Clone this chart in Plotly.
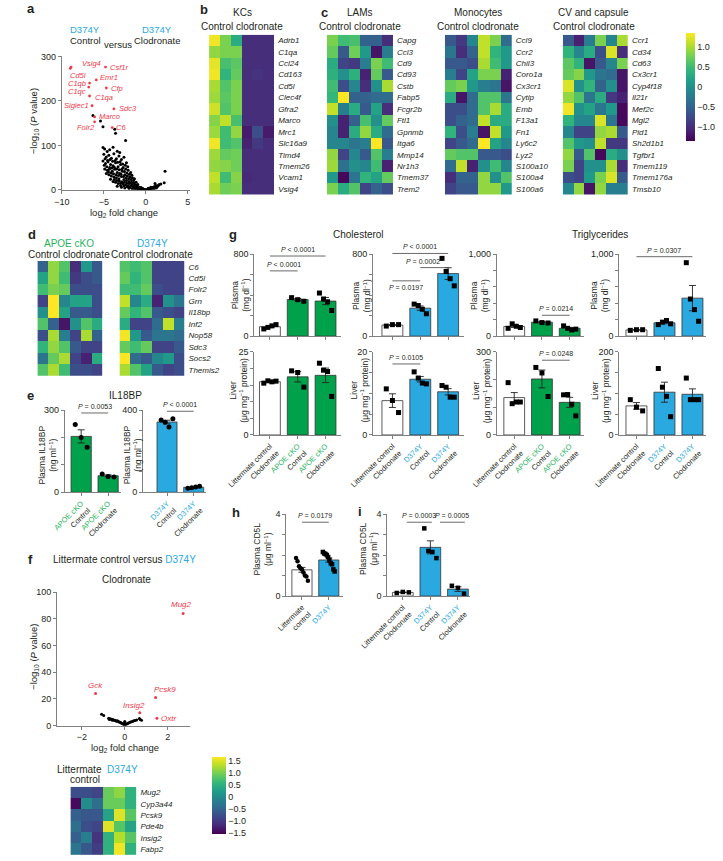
import numpy as np
import plotly.graph_objects as go

W, H = 723, 861
FONT = "Liberation Sans"
INK = "#231f20"
AXC = "#808080"
GREEN = "#00a14b"
GREEN_TXT = "#1fb35c"
BLUE = "#29a9e0"
RED = "#ee3b4a"

# ---------------- a: volcano, D374Y control versus clodronate ----------------
a_x = [-6.3, -5.4, -5.1, -3.7, -3.6, -2.4, -5.1, -4.9, -4.6, -4.3, -3.9, -3.4, -3.1,
       -5.0, -4.7, -4.4, -4.1, -3.8, -3.5, -3.2, -2.9, -2.6, -2.3, -5.1, -4.8, -4.5,
       -4.2, -3.9, -3.6, -3.3, -3.0, -2.7, -2.4, -2.1, -1.8, -4.9, -4.6, -4.3, -4.0,
       -3.7, -3.4, -3.1, -2.8, -2.5, -2.2, -1.9, -1.6, -4.7, -4.4, -4.1, -3.8, -3.5,
       -3.2, -2.9, -2.6, -2.3, -2.0, -1.7, -1.4, -1.2, -4.2, -3.9, -3.6, -3.3, -3.0,
       -2.7, -2.4, -2.1, -1.8, -1.5, -1.2, -1.0, -0.8, -0.6, -0.4, -0.2, -3.4, -2.9,
       -2.5, -2.0, -1.6, -1.3, -0.9, -0.5, -0.3, 0.0, 0.2, 0.4, 0.6, 0.8, 1.0, 1.2,
       1.4, 1.6, 0.9, 1.1, 1.3, 2.3, 2.2, 1.8, 0.5, 1.5,
       -4.85, -4.55, -4.25, -3.95, -3.65, -3.35, -3.05, -2.75, -2.45, -2.15,
       -4.95, -4.65, -4.35, -4.05, -3.75, -3.45, -3.15, -2.85, -2.55, -2.25, -1.95, -1.65, -1.35,
       -4.45, -4.15, -3.85, -3.55, -3.25, -2.95, -2.65, -2.35, -2.05, -1.75, -1.45, -1.15, -0.95,
       -3.75, -3.45, -3.15, -2.85, -2.55, -2.25, -1.95, -1.65, -1.35, -1.05, -0.75, -0.55, -0.35,
       -3.0, -2.6, -2.2, -1.9, -1.4, -1.1, -0.7, -0.15, 0.1, 0.3, 0.7, 1.0, 0.3, 0.6, 1.25]
a_y = [167, 155, 142, 136, 127, 111, 95, 92, 86, 90, 96, 87, 84,
       80, 74, 78, 71, 81, 70, 76, 68, 73, 61, 65, 59, 63,
       57, 54, 61, 52, 57, 50, 47, 44, 39, 47, 44, 50, 42,
       46, 39, 37, 42, 34, 31, 29, 27, 37, 34, 31, 29, 27,
       25, 30, 23, 21, 19, 17, 15, 11, 24, 19, 17, 14, 15,
       13, 11, 9, 8, 7, 5, 4, 3, 2.5, 1.5, 1, 8, 6,
       4, 3, 2.5, 2, 1.5, 0.8, 0.4, 0.2, 0.5, 1.5, 3, 5, 7, 10,
       8, 12, 4, 14, 6, 42, 16, 13, 2.5, 10,
       70, 66, 68, 64, 66, 62, 63, 58, 55, 52,
       55, 52, 46, 49, 51, 47, 45, 46, 41, 38, 35, 33, 25,
       40, 38, 36, 34, 32, 35, 30, 27, 25, 23, 21, 17, 12,
       23, 21, 20, 18, 17, 15, 14, 12, 10, 8, 6, 5, 3,
       10, 9, 7, 5, 4, 3, 1.5, 0.5, 0.3, 1.0, 2.0, 3.0, 3.5, 6, 4]
a_genes = ["Vsig4", "Cd5l", "Csf1r", "Emr1", "C1qb", "C1qc", "Cfp", "C1qa",
           "Siglec1", "Sdc3", "Marco", "Folr2", "C6"]
a_gene_x = [-8.9, -9.0, -4.8, -5.9, -6.7, -6.8, -4.7, -6.7, -6.4, -3.8, -6.1, -6.1, -4.0]
a_gene_y = [276, 273, 276, 247, 240, 231, 229, 211, 189, 182, 164, 153, 140]
# label placement: (xanchor, xshift, yshift)
a_label_pos = [("left", 9, 4), ("left", -2, -7), ("left", 2, 0), ("left", 2, 2),
               ("right", -2, 0), ("right", -1, -4), ("left", 3, -1), ("left", 3, -2),
               ("right", -1, 0), ("left", 3, 0), ("left", 2, 0), ("right", 2, -6),
               ("left", 2, 0)]

# ---------------- b, c: heatmaps ----------------
kc_genes = ["Adrb1", "C1qa", "Ccl24", "Cd163", "Cd5l", "Clec4f", "Gfra2", "Marco",
            "Mrc1", "Slc16a9", "Timd4", "Tmem26", "Vcam1", "Vsig4"]
kc_z = [[1.3, 0.8, 0.3, -1.0, -1.0, -1.0],
        [0.9, 0.8, 0.8, -1.0, -1.0, -1.0],
        [1.25, 0.55, 0.65, -1.0, -1.0, -1.0],
        [1.3, 0.4, 0.7, -1.0, -0.95, -1.0],
        [1.0, 0.6, 0.8, -1.0, -1.0, -1.0],
        [0.95, 0.65, 0.8, -1.0, -1.0, -1.0],
        [1.15, 0.6, 0.8, -1.0, -1.0, -1.0],
        [0.85, 1.1, 0.55, -1.0, -1.0, -1.0],
        [0.95, 0.5, 0.9, -1.15, -0.7, -1.15],
        [1.3, 0.5, 0.6, -1.1, -0.9, -1.0],
        [0.95, 0.7, 0.75, -1.0, -1.0, -1.0],
        [0.9, 0.85, 0.75, -1.0, -1.0, -1.0],
        [1.1, 0.5, 0.85, -1.05, -1.0, -1.0],
        [1.0, 0.75, 0.8, -1.0, -1.0, -1.0]]

lam_genes = ["Capg", "Ccl3", "Cd9", "Cd93", "Cstb", "Fabp5", "Fcgr2b", "Ftl1",
             "Gpnmb", "Itga6", "Mmp14", "Nr1h3", "Tmem37", "Trem2"]
lam_z = [[0.8, 0.5, 0.55, -0.5, -0.5, -1.0],
         [0.7, -0.6, 0.75, 0.1, -1.2, -0.2],
         [0.3, -0.8, -0.9, -0.2, 0.8, 0.5],
         [0.35, 0.0, 0.35, -1.1, 0.7, -0.6],
         [0.5, -0.7, -0.1, -1.0, 0.0, 1.0],
         [0.45, 1.35, -0.5, -0.5, -0.4, -0.4],
         [1.1, -0.2, 0.3, -0.6, 0.2, -1.0],
         [0.0, -1.1, -0.5, 0.55, 0.0, 0.7],
         [-0.1, -1.1, 0.3, 0.9, 0.3, -0.4],
         [-0.1, -0.1, -0.3, -0.2, 1.35, -0.6],
         [0.9, -0.8, -0.1, -0.6, 0.6, -0.2],
         [0.95, -0.35, 0.0, -0.1, 0.5, -1.1],
         [0.1, -1.3, -0.3, 0.4, 0.2, 0.7],
         [0.8, 0.3, 0.6, -0.8, -0.5, -0.7]]

mono_genes = ["Ccl9", "Ccr2", "Chil3", "Coro1a", "Cx3cr1", "Cytip", "Emb", "F13a1",
              "Fn1", "Ly6c2", "Lyz2", "S100a10", "S100a4", "S100a6"]
mono_z = [[-0.6, -0.9, -0.1, 1.1, 0.8, -0.4],
          [-0.3, -1.0, -0.5, 1.1, 0.4, 0.1],
          [-0.6, -0.6, -0.7, 1.0, 0.5, 0.1],
          [-0.2, -0.8, 0.2, 0.8, 0.8, -1.1],
          [0.7, 0.8, 0.1, -0.2, -0.3, -1.2],
          [0.3, -1.2, -0.4, 0.6, 0.6, -0.3],
          [-0.7, -0.7, -0.4, 0.6, 1.0, 0.3],
          [-0.7, -0.5, -0.4, 1.1, 0.3, 0.3],
          [0.4, -0.7, -0.2, -1.2, 1.1, 0.1],
          [-0.8, -0.6, -0.4, 1.35, 0.2, -0.1],
          [0.7, 0.6, 0.6, -0.6, -0.6, -0.7],
          [-0.4, 1.1, -1.1, 0.0, 0.5, -0.1],
          [-1.0, -0.5, -0.5, 0.9, 0.0, 0.6],
          [-0.8, -0.6, -0.6, 0.9, 0.9, 0.1]]

cv_genes = ["Ccr1", "Cd34", "Cd63", "Cx3cr1", "Cyp4f18", "Il21r", "Mef2c", "Mgl2",
            "Pid1", "Sh2d1b1", "Tgfbr1", "Tmem119", "Tmem176a", "Tmsb10"]
cv_z = [[-0.6, -1.1, -0.2, 0.8, -0.1, 1.0],
        [0.4, -0.1, 0.3, -0.7, 1.2, -1.0],
        [0.65, 0.4, -1.2, -0.6, -0.1, 0.8],
        [0.7, 0.85, 0.1, -0.3, -0.4, -1.2],
        [1.2, 0.0, 0.4, -0.5, 0.0, -1.2],
        [0.9, 0.6, -0.3, 0.3, -0.9, -1.1],
        [1.3, 0.0, 0.2, -0.3, 0.1, -1.3],
        [0.4, -0.1, -0.1, 1.2, -0.3, -1.3],
        [-0.1, -0.8, -0.8, 0.9, 1.0, -0.6],
        [0.6, 0.1, 0.0, 1.1, -0.9, -0.9],
        [0.9, -0.6, 0.6, -1.3, 0.3, 0.0],
        [0.8, -0.8, 0.0, 0.0, 1.0, -1.0],
        [-0.7, -0.8, 0.1, 0.8, 1.2, -0.6],
        [-0.1, 0.9, -1.2, 0.9, -0.2, -0.2]]

# ---------------- d: heatmaps ----------------
d_genes = ["C6", "Cd5l", "Folr2", "Grn", "Il18bp", "Inf2", "Nop58", "Sdc3", "Socs2", "Themis2"]
d_apoe_z = [[-0.5, 0.9, 0.6, -1.0, 0.1, -0.6],
            [0.2, 0.9, 0.5, -0.9, -0.7, -0.6],
            [0.5, 0.8, 0.7, -0.7, -0.7, -0.7],
            [-0.8, 1.35, -0.1, 0.2, 0.2, -0.7],
            [0.0, 1.35, 0.2, -0.6, -0.6, -0.7],
            [0.6, -0.5, -1.2, 0.0, 0.6, 0.3],
            [-0.7, 1.0, -0.2, -0.8, 1.0, -0.5],
            [0.4, 0.9, 0.6, -0.6, -0.8, -0.8],
            [-0.3, 0.7, 1.0, -0.8, -1.1, 0.3],
            [0.6, 1.0, 0.5, -0.7, -0.7, -0.8]]
d_d374_z = [[0.6, 0.5, 0.6, -0.8, -0.8, -0.8],
            [0.7, 0.4, 0.6, -0.8, -0.8, -0.8],
            [0.5, 0.5, 0.7, -0.7, -0.8, -0.8],
            [1.1, -0.1, 0.3, -1.1, 0.0, -0.3],
            [0.7, 0.4, 0.6, -0.6, -0.7, -0.8],
            [0.3, -0.8, -0.8, -0.4, 1.1, -0.2],
            [1.3, 0.1, -0.6, -0.3, -0.3, -0.4],
            [0.7, 0.5, 0.7, -0.8, -0.8, -0.6],
            [1.35, -0.4, -0.6, -0.1, 0.1, -0.7],
            [1.0, 0.6, 0.2, -0.6, -0.8, -0.7]]

# ---------------- e: IL18BP ----------------
e_apoe = [[248, 200, 165], [67, 58, 56]]
e_d374 = [[352, 342, 318, 358], [20, 22, 26, 29]]

# ---------------- g: cholesterol / triglycerides ----------------
chol_apoe_plasma = [[70, 85, 100, 112], [375, 355, 340], [420, 362, 335, 250]]
chol_d374_plasma = [[98, 112, 112], [312, 298, 262, 218], [758, 630, 560, 490]]
tg_apoe_plasma = [[95, 150, 120, 105], [185, 165, 160], [125, 95, 75, 85]]
tg_d374_plasma = [[70, 78, 78], [140, 170, 190, 150], [895, 452, 323, 181]]
chol_apoe_liver = [[15.6, 16.3, 16.0, 16.2], [19.3, 18.8, 14.4], [21.6, 19.5, 19.1, 11.6]]
chol_d374_liver = [[11.1, 8.3, 5.4], [15.2, 13.7, 12.5, 12.3], [11.9, 11.5, 9.1, 9.1]]
tg_apoe_liver = [[189, 113, 119, 119], [244, 224, 139], [145, 146, 111, 69]]
tg_d374_liver = [[85, 67, 58], [160, 115, 93, 44], [137, 85, 85, 85]]

# ---------------- h, i: plasma CD5L ----------------
h_cd5l = [[1.85, 1.7, 1.45, 1.35, 1.3, 1.15, 1.0, 0.95, 0.75],
          [2.15, 2.08, 2.05, 2.0, 1.9, 1.75, 1.6, 1.55, 1.3, 1.2]]
i_cd5l = [[0.15, 0.2, 0.18], [3.3, 2.2, 2.15, 1.85], [0.5, 0.4, 0.12]]

# ---------------- f: volcano + heatmap ----------------
f_x = [-1.08, -0.98, -0.75, -0.72, -0.68, -0.62, -0.58, -0.55, -0.5, -0.45, -0.42,
       -0.38, -0.34, -0.3, -0.26, -0.22, -0.18, -0.14, -0.1, -0.06, -0.03, 0.0, 0.03,
       0.07, 0.11, 0.15, 0.2, 0.25, 0.3, 0.36, 0.42, 0.48, 0.55, 0.68, 0.72, 0.78,
       0.0, 0.0, 0.0]
f_y = [8.5, 7.5, 5.5, 4.5, 5.0, 4.8, 4.0, 4.5, 4.0, 3.8, 3.5,
       3.2, 3.5, 3.0, 2.6, 2.4, 2.0, 1.7, 1.3, 0.9, 0.5, 0.2, 0.6,
       1.0, 1.4, 1.7, 2.0, 2.4, 2.8, 3.1, 3.5, 3.8, 4.2, 5.2, 4.6, 4.0,
       1.2, 2.2, 3.0]
f_genes = ["Mug2", "Gck", "Pcsk9", "Insig2", "Oxtr"]
f_gene_x = [2.72, -1.36, 1.44, 0.7, 1.5]
f_gene_y = [84, 24, 21, 9.5, 5.5]
f_label_pos = [("center", "bottom", -2, 2), ("center", "bottom", 0, 2),
               ("left", "bottom", -4, 2), ("center", "bottom", -6, 1),
               ("left", "middle", 2, 0)]

fh_genes = ["Mug2", "Cyp3a44", "Pcsk9", "Pde4b", "Insig2", "Fabp2"]
fh_z = [[-0.8, -0.8, -0.9, 0.9, 1.1, 0.5],
        [-1.5, 0.0, -0.4, 0.9, 0.9, 0.5],
        [-0.6, -0.7, -0.7, 0.3, 1.5, 0.8],
        [-0.4, -0.8, -0.9, 1.5, 0.8, 0.3],
        [-0.6, -0.2, -1.1, 0.5, 1.3, 0.8],
        [-0.3, -0.7, -1.0, 0.5, 1.6, 0.5]]


fig = go.Figure()
axes = {}
notes = []
shapes = []


def add_axes(xpx, ypx, xopt, yopt):
    k = len(axes) // 2 + 1
    s = "" if k == 1 else str(k)
    base = dict(showgrid=False, zeroline=False, linecolor=AXC, linewidth=1,
                tickcolor=AXC, ticklen=3, tickwidth=1, fixedrange=True,
                tickfont=dict(size=9, color=INK, family=FONT))
    axes["xaxis" + s] = {**base, "domain": [xpx[0] / W, xpx[1] / W], "anchor": "y" + s, **xopt}
    axes["yaxis" + s] = {**base, "domain": [1 - ypx[1] / H, 1 - ypx[0] / H], "anchor": "x" + s, **yopt}
    return "x" + s, "y" + s


def text(x, y, s, size=10, color=INK, **kw):
    opts = dict(xanchor="center", yanchor="middle")
    opts.update(kw)
    notes.append(dict(x=x / W, y=1 - y / H, xref="paper", yref="paper", text=s,
                      showarrow=False, font=dict(size=size, color=color, family=FONT), **opts))


def heatmap(z, genes, xpx, ypx, cax="coloraxis", show_genes=True):
    xa, ya = add_axes(
        xpx, ypx,
        dict(range=[-0.5, len(z[0]) - 0.5], showline=False, ticks="", showticklabels=False),
        dict(range=[len(genes) - 0.5, -0.5], side="right", showline=False, ticks="",
             tickvals=list(range(len(genes))), ticktext=[f"<i>{g}</i>" for g in genes],
             showticklabels=show_genes, ticklabelstandoff=3,
             tickfont=dict(size=8, color=INK, family=FONT)))
    fig.add_trace(go.Heatmap(z=z, coloraxis=cax, xaxis=xa, yaxis=ya, hoverinfo="skip"))


def bar_panel(xpx, ypx, xr, ytop, ystep, ylabel_top, groups, colors, symbols,
              xticks=None, sigs=(), msize=5):
    n = len(groups)
    xa, ya = add_axes(
        xpx, ypx,
        dict(range=xr, tickvals=list(range(n)), ticks="outside",
             ticktext=xticks, showticklabels=xticks is not None, tickangle=-45,
             tickfont=dict(size=7.5, color=INK, family=FONT)),
        dict(range=[0, ytop], tickvals=[0, ytop], ticktext=["0", ylabel_top], ticks="outside",
             minor=dict(dtick=ystep, ticks="outside", ticklen=3, tickcolor=AXC, tickwidth=1)))
    means = [np.mean(g) for g in groups]
    sems = [np.std(g, ddof=1) / np.sqrt(len(g)) for g in groups]
    fig.add_trace(go.Bar(x=list(range(n)), y=means, width=0.75, xaxis=xa, yaxis=ya,
                         marker=dict(color=colors, line=dict(color="#333333", width=0.8)),
                         error_y=dict(type="data", array=sems, color="#222222",
                                      thickness=0.9, width=3.5)))
    for i, g in enumerate(groups):
        off = np.linspace(-0.22, 0.22, len(g))
        fig.add_trace(go.Scatter(x=i + off, y=g, mode="markers", xaxis=xa, yaxis=ya,
                                 cliponaxis=False,
                                 marker=dict(symbol=symbols[i], size=msize, color="black")))

    def px_x(v):
        return xpx[0] + (v - xr[0]) / (xr[1] - xr[0]) * (xpx[1] - xpx[0])

    def px_y(v):
        return ypx[1] - v / ytop * (ypx[1] - ypx[0])

    for sig in sigs:
        i, j, lev, ptxt, below = sig[:5]
        dx = sig[5] if len(sig) > 5 else 0
        x0, x1, y = px_x(i), px_x(j), px_y(lev)
        shapes.append(dict(type="line", xref="paper", yref="paper", x0=x0 / W, x1=x1 / W,
                           y0=1 - y / H, y1=1 - y / H, line=dict(color="#444444", width=0.8)))
        text((x0 + x1) / 2 + dx, y + (1 if below else -1), ptxt, size=7,
             yanchor="top" if below else "bottom")


def ytitle(x, y, s, size=8.5):
    text(x, y, s, size=size, textangle=-90)


def ptext(v):
    return "<i>P</i> " + v


def colored(s, c):
    return f"<span style='color:{c}'>{s}</span>"


# ---------- a ----------
xa, ya = add_axes([37, 173], [52, 187],
                  dict(range=[-10, 5.3], tickvals=[-10, -5, 0, 5], ticks="outside"),
                  dict(range=[0, 300], tickvals=[0, 100, 200, 300], ticks="outside"))
fig.add_trace(go.Scatter(x=a_x, y=a_y, mode="markers", xaxis=xa, yaxis=ya,
                         marker=dict(size=3, color="black")))
fig.add_trace(go.Scatter(x=a_gene_x, y=a_gene_y, mode="markers", xaxis=xa, yaxis=ya,
                         marker=dict(size=2.8, color=RED)))
for g, gx, gy, (anc, dx, dy) in zip(a_genes, a_gene_x, a_gene_y, a_label_pos):
    notes.append(dict(x=gx, y=gy, xref=xa, yref=ya, text=f"<i>{g}</i>", showarrow=False,
                      xanchor=anc, yanchor="middle", xshift=dx, yshift=dy,
                      font=dict(size=7.5, color=RED, family=FONT)))
text(61, 25, "D374Y", 9.5, BLUE)
text(62, 36, "Control", 9.5)
text(97, 40, "versus", 9.5)
text(138, 25, "D374Y", 9.5, BLUE)
text(138, 36, "Clodronate", 9.5)
text(103, 210, "log<sub>2</sub> fold change", 9.5)
ytitle(7, 118, "−log<sub>10</sub> (<i>P</i> value)", 9.5)

# ---------- b, c ----------
heatmap(kc_z, kc_genes, [193, 262], [30, 192])
heatmap(lam_z, lam_genes, [318, 388], [30, 192])
heatmap(mono_z, mono_genes, [443, 514], [30, 192])
heatmap(cv_z, cv_genes, [568, 637], [30, 192])
for cx, ttl in [(228, "KCs"), (353, "LAMs"), (478, "Monocytes"), (601, "CV and capsule")]:
    text(cx, 8, ttl, 10)
    text(cx, 22, "Control clodronate", 10)

# ---------- d ----------
heatmap(d_apoe_z, d_genes, [11, 80], [259, 375], show_genes=False)
heatmap(d_d374_z, d_genes, [98, 167], [259, 375])
text(45, 241, "APOE cKO", 10, GREEN_TXT)
text(45, 252, "Control clodronate", 10)
text(133, 241, "D374Y", 10, BLUE)
text(132, 252, "Control clodronate", 10)

# ---------- e ----------
text(104, 395, "IL18BP", 10)
bar_panel([40, 100], [410, 493], [-0.61, 1.49], 300, 100, "300",
          e_apoe, [GREEN, GREEN], ["circle", "circle"],
          xticks=[colored("APOE cKO", GREEN_TXT) + "<br>Control",
                  colored("APOE cKO", GREEN_TXT) + "<br>Clodronate"],
          sigs=[(0, 1, 290, ptext("= 0.0053"), False)])
bar_panel([123, 190], [410, 493], [-0.9, 1.47], 400, 100, "400",
          e_d374, [BLUE, BLUE], ["circle", "circle"],
          xticks=[colored("D374Y", BLUE) + "<br>Control",
                  colored("D374Y", BLUE) + "<br>Clodronate"],
          sigs=[(0, 1, 395, ptext("< 0.0001"), False)])
ytitle(22, 455, "Plasma IL18BP<br>(ng ml<sup>−1</sup>)")
ytitle(112, 455, "Plasma IL18BP<br>(ng ml<sup>−1</sup>)")

# ---------- g ----------
text(351, 232, "Cholesterol", 10)
text(607, 232, "Triglycerides", 10)
apoe_ticks = ["Littermate control<br>Clodronate",
              colored("APOE cKO", GREEN_TXT) + "<br>Control",
              colored("APOE cKO", GREEN_TXT) + "<br>Clodronate"]
d374_ticks = ["Littermate control<br>Clodronate",
              colored("D374Y", BLUE) + "<br>Control",
              colored("D374Y", BLUE) + "<br>Clodronate"]
g_cols = [([241, 333], [-0.56, 2.56]), ([367, 463], [-0.69, 2.56]),
          ([498, 590], [-0.63, 2.5]), ([628, 720], [-0.61, 2.49])]
top_y, bot_y = [252, 335], [351, 435]
apoe_c = ["white", GREEN, GREEN]
d374_c = ["white", BLUE, BLUE]
sq = ["square"] * 3

bar_panel(g_cols[0][0], top_y, g_cols[0][1], 800, 200, "800", chol_apoe_plasma, apoe_c, sq,
          sigs=[(0, 2, 781, ptext("< 0.0001"), False), (0, 1, 636, ptext("< 0.0001"), False)])
bar_panel(g_cols[1][0], top_y, g_cols[1][1], 800, 200, "800", chol_d374_plasma, d374_c, sq,
          sigs=[(0, 2, 806, ptext("< 0.0001"), False),
                (1, 2, 668, ptext("= 0.0002"), False, -12),
                (0, 1, 539, ptext("= 0.0197"), True)])
bar_panel(g_cols[2][0], top_y, g_cols[2][1], 1000, 200, "1,000", tg_apoe_plasma, apoe_c, sq,
          sigs=[(1, 2, 254, ptext("= 0.0214"), False)])
bar_panel(g_cols[3][0], top_y, g_cols[3][1], 1000, 200, "1,000", tg_d374_plasma, d374_c, sq,
          sigs=[(0, 2, 968, ptext("= 0.0307"), False)])
bar_panel(g_cols[0][0], bot_y, g_cols[0][1], 25, 5, "25", chol_apoe_liver, apoe_c, sq,
          xticks=apoe_ticks)
bar_panel(g_cols[1][0], bot_y, g_cols[1][1], 20, 5, "20", chol_d374_liver, d374_c, sq,
          xticks=d374_ticks, sigs=[(0, 1, 17.1, ptext("= 0.0105"), False)])
bar_panel(g_cols[2][0], bot_y, g_cols[2][1], 300, 100, "300", tg_apoe_liver, apoe_c, sq,
          xticks=apoe_ticks, sigs=[(1, 2, 270, ptext("= 0.0248"), False)])
bar_panel(g_cols[3][0], bot_y, g_cols[3][1], 200, 50, "200", tg_d374_liver, d374_c, sq,
          xticks=d374_ticks)
for cx in [226, 355, 480, 607]:
    ytitle(cx, 294, "Plasma<br>(mg dl<sup>−1</sup>)")
for cx in [224, 352, 482, 608]:
    ytitle(cx, 390, "Liver<br>(μg mg<sup>−1</sup> protein)")

# ---------- h, i ----------
bar_panel([275, 335], [515, 598], [-0.58, 1.53], 4, 1, "4", h_cd5l,
          ["white", BLUE], ["circle", "square"],
          xticks=["Littermate<br>control", colored("D374Y", BLUE)],
          sigs=[(0, 1, 3.6, ptext("= 0.0179"), False)], msize=4.5)
bar_panel([382, 470], [515, 598], [-0.56, 2.45], 4, 1, "4", i_cd5l,
          ["white", BLUE, BLUE], sq, xticks=d374_ticks,
          sigs=[(0.15, 1.05, 3.6, ptext("= 0.0003"), False),
                (1.35, 2.25, 3.6, ptext("= 0.0005"), False)], msize=4.5)
ytitle(250, 550, "Plasma CD5L<br>(μg ml<sup>−1</sup>)")
ytitle(362, 550, "Plasma CD5L<br>(μg ml<sup>−1</sup>)")

# ---------- f ----------
xa, ya = add_axes([32, 173], [594, 729],
                  dict(range=[-3.15, 3.05], tickvals=[-2, 0, 2], ticks="outside"),
                  dict(range=[0, 100], tickvals=[0, 20, 40, 60, 80, 100], ticks="outside"))
fig.add_trace(go.Scatter(x=f_x, y=f_y, mode="markers", xaxis=xa, yaxis=ya,
                         marker=dict(size=3, color="black")))
fig.add_trace(go.Scatter(x=f_gene_x, y=f_gene_y, mode="markers", xaxis=xa, yaxis=ya,
                         marker=dict(size=3, color=RED)))
for g, gx, gy, (xanc, yanc, dx, dy) in zip(f_genes, f_gene_x, f_gene_y, f_label_pos):
    notes.append(dict(x=gx, y=gy, xref=xa, yref=ya, text=f"<i>{g}</i>", showarrow=False,
                      xanchor=xanc, yanchor=yanc, xshift=dx, yshift=dy,
                      font=dict(size=8, color=RED, family=FONT)))
text(103, 561, "Littermate control versus " + colored("D374Y", BLUE), 10)
text(105, 581, "Clodronate", 10)
text(104, 752, "log<sub>2</sub> fold change", 9.5)
ytitle(8, 660, "−log<sub>10</sub> (<i>P</i> value)", 9.5)

heatmap(fh_z, fh_genes, [46, 116], [791, 860], cax="coloraxis2")
text(56, 773, "Littermate", 10)
text(62, 784, "control", 10)
text(101, 773, "D374Y", 10, BLUE)

# ---------- panel letters ----------
for lx, ly, lt in [(4, 4, "a"), (188, 5, "b"), (315, 8, "c"), (5, 232, "d"), (4, 395, "e"),
                   (218, 232, "g"), (222, 513, "h"), (353, 512, "i"), (4, 561, "f")]:
    text(lx, ly, f"<b>{lt}</b>", 13)

cb_font = dict(size=9, color=INK, family=FONT)
fig.update_layout(
    width=W, height=H, margin=dict(l=0, r=0, t=0, b=0),
    paper_bgcolor="white", plot_bgcolor="white", showlegend=False,
    font=dict(family=FONT, color=INK),
    coloraxis=dict(colorscale="Viridis", cmin=-1.35, cmax=1.35,
                   colorbar=dict(x=688 / W, xanchor="left", y=1 - 18 / H, yanchor="top",
                                 len=130 / H, thickness=9, outlinewidth=0, ticks="",
                                 tickvals=[-1, -0.5, 0, 0.5, 1],
                                 ticktext=["−1.0", "−0.5", "0", "0.5", "1.0"],
                                 tickfont=cb_font)),
    coloraxis2=dict(colorscale="Viridis", cmin=-1.58, cmax=1.66,
                    colorbar=dict(x=185 / W, xanchor="left", y=1 - 751 / H, yanchor="top",
                                  len=98 / H, thickness=14, outlinewidth=0, ticks="",
                                  tickvals=[-1.5, -1, -0.5, 0, 0.5, 1, 1.5],
                                  ticktext=["−1.5", "−1.0", "−0.5", "0", "0.5", "1.0", "1.5"],
                                  tickfont=cb_font)),
    annotations=notes, shapes=shapes, **axes)

fig.write_html("out.html", config={"displayModeBar": False},
               post_script="document.body.style.margin = '0';")
